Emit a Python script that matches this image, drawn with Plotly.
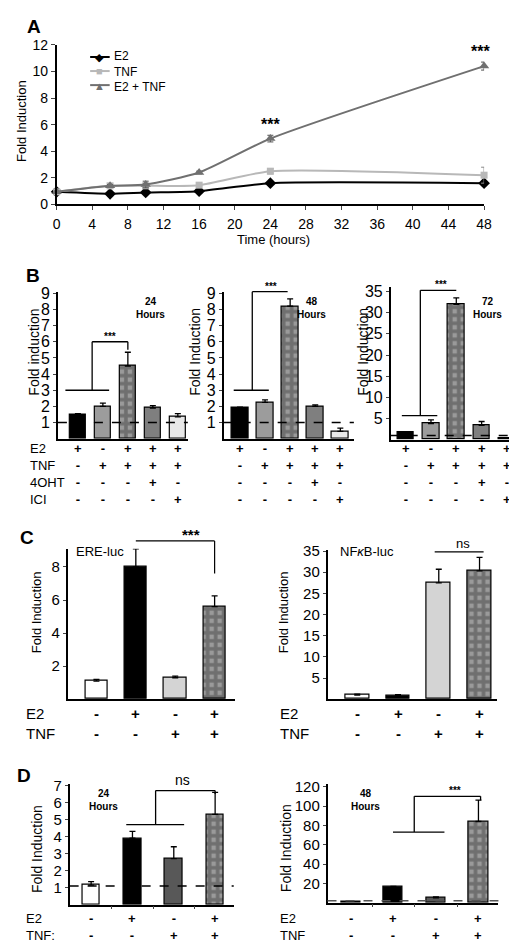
import plotly.graph_objects as go

W, H = 517, 944
def px(x): return x / W
def py(y): return 1 - y / H

# ---------------- data ----------------
# Panel A: time course
time_h = [0, 6, 10, 16, 24, 48]
a_e2 = [0.95, 0.8, 0.9, 1.0, 1.6, 1.6]
a_e2_err = [0.05, 0.05, 0.05, 0.05, 0.1, 0.1]
a_tnf = [0.95, 1.4, 1.4, 1.45, 2.5, 2.2]
a_tnf_err = [0.05, 0.1, 0.1, 0.1, 0.2, 0.6]
a_combo = [0.95, 1.4, 1.5, 2.4, 4.95, 10.4]
a_combo_err = [0.05, 0.1, 0.25, 0.1, 0.25, 0.3]
a_names = ["E2", "TNF", "E2 + TNF"]
a_xticks = list(range(0, 49, 4))
a_yticks = list(range(0, 13, 2))

# Panel B: 24 / 48 / 72 hours
b_rows = ["E2", "TNF", "4OHT", "ICI"]
b_signs = [["+", "-", "+", "+", "+"],
           ["-", "+", "+", "+", "+"],
           ["-", "-", "-", "+", "-"],
           ["-", "-", "-", "-", "+"]]
b24 = [1.5, 2.0, 4.5, 1.9, 1.35]
b24_err = [0.05, 0.2, 0.85, 0.15, 0.2]
b48 = [1.9, 2.25, 8.2, 2.0, 0.45]
b48_err = [0.05, 0.15, 0.45, 0.1, 0.2]
b72 = [1.7, 3.8, 32.0, 3.4, 0.3]
b72_err = [0.1, 0.9, 1.5, 0.9, 0.1]
b_ticks_9 = list(range(1, 10))
b_ticks_35 = list(range(5, 36, 5))

# Panel C: ERE-luc / NFkB-luc
c_rows = ["E2", "TNF"]
cd_signs = [["-", "+", "-", "+"],
            ["-", "-", "+", "+"]]
c_ere = [1.1, 8.0, 1.3, 5.6]
c_ere_err = [0.1, 1.1, 0.1, 0.65]
c_nfkb = [1.0, 0.9, 27.5, 30.3]
c_nfkb_err = [0.2, 0.2, 3.2, 3.2]
c_ticks_ere = [2, 4, 6, 8]
c_ticks_nfkb = list(range(5, 36, 5))

# Panel D: 24 / 48 hours
d_rows = ["E2", "TNF:"]
d_rows2 = ["E2", "TNF"]
d24 = [1.15, 3.9, 2.7, 5.3]
d24_err = [0.2, 0.4, 0.7, 1.3]
d48 = [1.5, 16.0, 5.0, 84.0]
d48_err = [0.3, 0.8, 1.0, 22.0]
d_ticks_24 = list(range(1, 8))
d_ticks_48 = list(range(20, 121, 20))

SANS = "Liberation Sans, Arial, sans-serif"

fig = go.Figure()

# ---------------- Panel A ----------------
a_series = [
    (a_e2, a_e2_err, "black", "black", "diamond", 9),
    (a_tnf, a_tnf_err, "#b8b8b8", "#8a8a8a", "square", 7),
    (a_combo, a_combo_err, "#707070", "#505050", "triangle-up", 9),
]
for name, (vals, errs, col, ecol, sym, ms) in zip(a_names, a_series):
    fig.add_trace(go.Scatter(x=time_h, y=vals, name=name, mode="lines+markers",
                             line=dict(color=col, width=2, shape="spline", smoothing=0.6),
                             marker=dict(symbol=sym, size=ms, color=col),
                             error_y=dict(type="data", array=errs, color=ecol, width=3, thickness=1),
                             cliponaxis=False, showlegend=False, xaxis="x", yaxis="y"))

# ---------------- bar subplots geometry ----------------
subs = {
    2: dict(x0=47, x1=180, yt=280.4, yb=430, xr=[-0.8, 4.4], yr=[0, 9.1], tv=b_ticks_9, tfs=16, xt=[]),
    3: dict(x0=216.7, x1=350, yt=280.4, yb=430, xr=[-0.65, 4.54], yr=[0, 9.1], tv=b_ticks_9, tfs=16, xt=[]),
    4: dict(x0=387.7, x1=515, yt=276, yb=431, xr=[-0.59, 4.32], yr=[0, 36], tv=b_ticks_35, tfs=16, xt=[]),
    5: dict(x0=57, x1=228, yt=542, yb=695, xr=[-0.73, 3.51], yr=[0, 9.1], tv=c_ticks_ere, tfs=15, xt=[]),
    6: dict(x0=323, x1=497, yt=543, yb=695, xr=[-0.73, 3.44], yr=[0, 35.3], tv=c_ticks_nfkb, tfs=15, xt=[]),
    7: dict(x0=59, x1=227, yt=781, yb=904, xr=[-0.52, 3.45], yr=[0, 7.1], tv=d_ticks_24, tfs=15, xt=[0.5, 1.5, 2.5]),
    8: dict(x0=323, x1=498, yt=781, yb=902, xr=[-0.55, 3.47], yr=[0, 123], tv=d_ticks_48, tfs=15, xt=[0.5, 1.5, 2.5]),
}

def yp(k, v):
    s = subs[k]
    f = (v - s["yr"][0]) / (s["yr"][1] - s["yr"][0])
    return py(s["yb"]) + f * (py(s["yt"]) - py(s["yb"]))

CHECK = "CHECK"
b_colors = ["#000000", "#9c9c9c", CHECK, "#7f7f7f", "#e8e8e8"]
c_colors = ["#ffffff", "#000000", "#d4d4d4", CHECK]
d_colors = ["#ffffff", "#000000", "#585858", CHECK]

def add_bars(k, vals, errs, colors, width):
    n = len(vals)
    shapes = ["+" if c == CHECK else "" for c in colors]
    cols = ["#9a9a9a" if c == CHECK else c for c in colors]
    fig.add_trace(go.Bar(
        x=list(range(n)), y=vals, width=width,
        marker=dict(color=cols, line=dict(color="black", width=1.2),
                    pattern=dict(shape=shapes, fgcolor="#000000", size=8, solidity=0.7,
                                 fillmode="overlay")),
        error_y=dict(type="data", array=errs, arrayminus=[0] * n, color="black", width=3, thickness=1.3),
        cliponaxis=False, showlegend=False, xaxis=f"x{k}", yaxis=f"y{k}"))

add_bars(2, b24, b24_err, b_colors, 0.67)
add_bars(3, b48, b48_err, b_colors, 0.66)
add_bars(4, b72, b72_err, b_colors, 0.66)
add_bars(5, c_ere, c_ere_err, c_colors, 0.57)
add_bars(6, c_nfkb, c_nfkb_err, c_colors, 0.58)
add_bars(7, d24, d24_err, d_colors, 0.43)
add_bars(8, d48, d48_err, d_colors, 0.45)

layout = dict(
    width=W, height=H, margin=dict(l=0, r=0, t=0, b=0),
    paper_bgcolor="white", plot_bgcolor="white",
    font=dict(family=SANS, color="black"),
    showlegend=False,
    bargap=0,
)

layout["xaxis"] = dict(domain=[px(45.7), px(483.3)], range=[0, 48], anchor="y",
                       tickvals=a_xticks, ticks="outside", ticklen=4, showline=True,
                       linecolor="black", linewidth=1.5, showgrid=False, zeroline=False,
                       ticklabelstandoff=2, tickfont=dict(size=14, family=SANS))
layout["yaxis"] = dict(domain=[py(191.7), py(29.3)], range=[0, 12], anchor="x",
                       tickvals=a_yticks, ticks="outside", ticklen=4, showline=True,
                       linecolor="black", linewidth=1.5, showgrid=False, zeroline=False,
                       tickfont=dict(size=14, family=SANS))

for k, s in subs.items():
    layout[f"xaxis{k}"] = dict(domain=[px(s["x0"]), px(s["x1"])], range=s["xr"], anchor=f"y{k}",
                               showline=True, linecolor="black", linewidth=1.5, showticklabels=False,
                               tickvals=s["xt"], ticks="outside" if s["xt"] else "", ticklen=3,
                               showgrid=False, zeroline=False, fixedrange=True)
    layout[f"yaxis{k}"] = dict(domain=[py(s["yb"]), py(s["yt"])], range=s["yr"], anchor=f"x{k}",
                               showline=True, linecolor="black", linewidth=1.5, tickvals=s["tv"],
                               ticks="outside", ticklen=3, showgrid=False, zeroline=False,
                               tickfont=dict(size=s["tfs"], family=SANS))

fig.update_layout(**layout)

ann = []
def text(x, y, t, size=13, xanchor="center", yanchor="middle", angle=0, xref="paper",
         bold=False, color="black", align="center"):
    if bold:
        t = f"<b>{t}</b>"
    ann.append(dict(x=x, y=y, xref=xref, yref="paper", text=t, showarrow=False,
                    font=dict(size=size, family=SANS, color=color), align=align,
                    xanchor=xanchor, yanchor=yanchor, textangle=angle))

shapes = []

# ---- manual legend for panel A (key glyphs + labels, stacked) ----
LEG_FS = 11
leg_mid = 56
leg_step = LEG_FS * 1.3
leg_glyph = ["◆", "■", "▲"]
glyph_lines = []
for i, (ser, g) in enumerate(zip(a_series, leg_glyph)):
    col = ser[2]
    ly = leg_mid + (i - 1) * leg_step
    shapes.append(dict(type="line", xref="paper", yref="paper", x0=px(80), x1=px(100),
                       y0=py(ly), y1=py(ly), line=dict(color=col, width=2)))
    glyph_lines.append(f"<span style='color:{col}'>{g}</span>")
text(px(90), py(leg_mid), "<br>".join(glyph_lines), size=LEG_FS)
text(px(102), py(leg_mid), "<br>".join(a_names), size=LEG_FS + 1, xanchor="left", align="left")

# Panel letters
text(px(23), py(11), "A", size=19, bold=True)
text(px(22), py(264), "B", size=19, bold=True)
text(px(15), py(530), "C", size=19, bold=True)
text(px(12), py(773), "D", size=19, bold=True)

# axis titles
text(px(268), py(227), "Time (hours)", size=13)
text(px(9), py(107), "Fold Induction", size=13, angle=-90)
text(px(23), py(342), "Fold induction", size=14, angle=-90)
text(px(188), py(342), "Fold Induction", size=14, angle=-90)
text(px(360), py(342), "Fold Induction", size=14, angle=-90)
text(px(25), py(606), "Fold Induction", size=13, angle=-90)
text(px(278), py(607), "Fold Induction", size=13, angle=-90)
text(px(25), py(847), "Fold Induction", size=14, angle=-90)
text(px(280), py(847), "Fold Induction", size=14, angle=-90)

# panel A significance
ann.append(dict(x=24, y=a_combo[4] + a_combo_err[4], xref="x", yref="y", text="<b>***</b>",
                showarrow=False, yanchor="bottom", font=dict(size=16, color="black", family=SANS)))
ann.append(dict(x=47.6, y=a_combo[5] + a_combo_err[5], xref="x", yref="y", text="<b>***</b>",
                showarrow=False, yanchor="bottom", font=dict(size=16, color="black", family=SANS)))

# time labels
text(px(142), py(297), "24<br>Hours", size=10, bold=True)
text(px(307), py(297), "48<br>Hours", size=10, bold=True)
text(px(487), py(297), "72<br>Hours", size=10, bold=True)
text(px(94), py(798), "24<br>Hours", size=10, bold=True)
text(px(362), py(798), "48<br>Hours", size=10, bold=True)

# luciferase labels
text(px(63), py(545), "ERE-luc", size=13, xanchor="left")
text(px(334), py(545), "NF<i>κ</i>B-luc", size=13, xanchor="left")

# row labels + signs (one stacked text per column)
def sign_block(k, signs, ymid, size):
    ncol = len(signs[0])
    for i in range(ncol):
        col_txt = "<br>".join(f"<b>{signs[r][i]}</b>" for r in range(len(signs)))
        text(i, py(ymid), col_txt, size=size, xref=f"x{k}")

for k in (2, 3, 4):
    sign_block(k, b_signs, 466, 13)
text(px(16), py(466), "<br>".join(b_rows), size=13, xanchor="left", align="left")

for k in (5, 6):
    sign_block(k, cd_signs, 720, 15)
text(px(12), py(720), "<br>".join(c_rows), size=15, xanchor="left", align="left")
text(px(272), py(720), "<br>".join(c_rows), size=15, xanchor="left", align="left")

for k in (7, 8):
    sign_block(k, cd_signs, 927, 13)
text(px(12), py(927), "<br>".join(d_rows), size=13, xanchor="left", align="left")
text(px(272), py(927), "<br>".join(d_rows2), size=13, xanchor="left", align="left")

# significance labels for bars
text(1.3, yp(2, 6.0) + 0.006, "***", size=10, bold=True, xref="x2")
text(1.25, yp(3, 9.1) + 0.006, "***", size=10, bold=True, xref="x3")
text(1.4, yp(4, 35.3) + 0.006, "***", size=10, bold=True, xref="x4")
text(2.4, py(527), "***", size=15, bold=True, xref="x5")
text(2.6, yp(6, 34.8) + 0.009, "ns", size=13, xref="x6")
text(2.2, yp(7, 6.7) + 0.011, "ns", size=14, xref="x7")
text(2.45, yp(8, 110) + 0.006, "***", size=10, bold=True, xref="x8")

fig.update_layout(annotations=ann)

# brackets (data-x, data-y) segments
brackets = {
    2: [(-0.5, 3.0, 1.25, 3.0), (0.57, 3.0, 0.57, 6.0), (0.57, 6.0, 2.0, 6.0), (2.0, 6.0, 2.0, 5.5)],
    3: [(-0.25, 3.0, 1.15, 3.0), (0.49, 3.0, 0.49, 9.1), (0.49, 9.1, 1.9, 9.1)],
    4: [(-0.15, 5.7, 1.25, 5.7), (0.58, 5.7, 0.58, 35.3), (0.58, 35.3, 2.0, 35.3)],
    6: [(1.9, 34.8, 3.1, 34.8)],
    7: [(0.85, 4.7, 2.25, 4.7), (1.56, 4.7, 1.56, 6.7), (1.56, 6.7, 3.0, 6.7), (3.0, 6.7, 3.0, 6.5)],
    8: [(0.99, 73, 2.2, 73), (1.49, 73, 1.49, 110), (1.49, 110, 3.05, 110), (3.05, 110, 3.05, 106)],
}
for k, segs in brackets.items():
    for (x0, y0, x1, y1) in segs:
        shapes.append(dict(type="line", xref=f"x{k}", yref="paper", x0=x0, x1=x1,
                           y0=yp(k, y0), y1=yp(k, y1), line=dict(color="black", width=1.3)))
# C1 bracket sits above the plot area
shapes.append(dict(type="line", xref="x5", yref="paper", x0=1, x1=3, y0=py(534), y1=py(534),
                   line=dict(color="black", width=1.2)))
shapes.append(dict(type="line", xref="x5", yref="paper", x0=3, x1=3, y0=py(534), y1=yp(5, 7.6),
                   line=dict(color="black", width=1.2)))

# dashed reference lines
for k, lvl, col in [(2, 1, "black"), (3, 1, "black"), (4, 1, "black"), (7, 1.1, "black"), (8, 2, "#555555")]:
    shapes.append(dict(type="line", xref=f"x{k} domain", yref=f"y{k}", x0=0, x1=1, y0=lvl, y1=lvl,
                       line=dict(color=col, width=1.4, dash="dash")))

fig.update_layout(shapes=shapes)

fig.write_html("out.html")
